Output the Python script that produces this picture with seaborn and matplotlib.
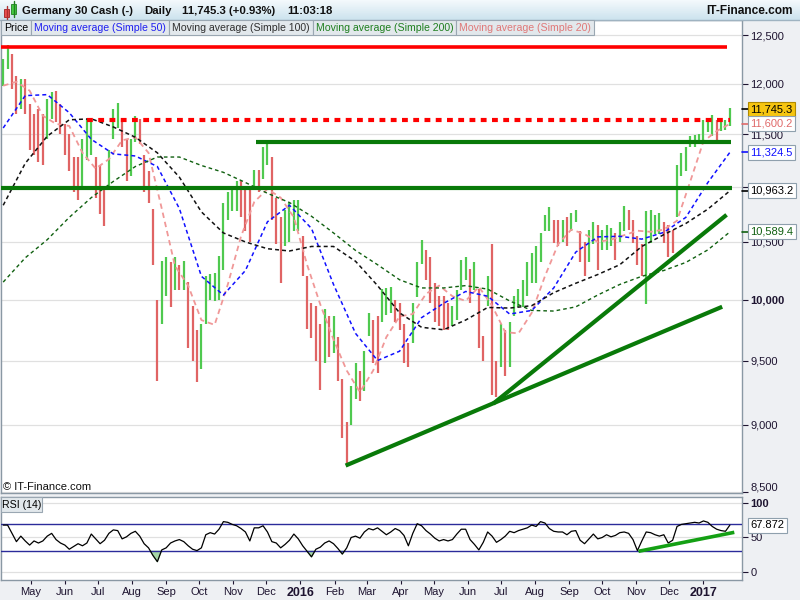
import numpy as np
import pandas as pd
import seaborn as sns
import matplotlib.pyplot as plt
import matplotlib.dates as mdates
import matplotlib.transforms as mtransforms
from matplotlib.patches import Rectangle
from matplotlib.colors import LinearSegmentedColormap
from matplotlib.ticker import FixedLocator, FuncFormatter, NullLocator, NullFormatter

# ---------- values ----------
first_bar = "2015-04-06"          # one bar every 4 calendar days

bar_lows = [
    11980, 12150, 11950, 11700, 11750, 11700, 11350, 11300, 11230, 11200,
    11450, 11650, 11620, 11500, 11300, 11150, 10950, 10880, 11000, 11250,
    11300, 10900, 10750, 10640, 11000, 11450, 11560, 11380, 11050, 11100,
    11420, 11400, 10950, 10850, 10300, 9340, 9800, 10030, 9940, 10080,
    10080, 10080, 9600, 9500, 9330, 9430, 9800, 10000, 9990, 10000,
    10250, 10700, 10780, 10780, 10720, 10600, 10500, 10970, 10950, 11070,
    11200, 10700, 10480, 10140, 10460, 10500, 10600, 10600, 10200, 9760,
    9680, 9500, 9270, 9480, 9530, 9560, 9340, 8900, 8700, 9000,
    9200, 9180, 9260, 9700, 9480, 9400, 9810, 9870, 9890, 9810,
    9750, 9480, 9450, 9640, 10020, 10310, 10170, 9970, 9810, 9780,
    9750, 9750, 9780, 9830, 10080, 10170, 9970, 10080, 9600, 9500,
    9950, 9230, 9210, 9450, 9380, 9450, 9860, 9940, 9940, 10030,
    10140, 10140, 10320, 10600, 10600, 10490, 10460, 10500, 10460, 10600,
    10680, 10320, 10200, 10320, 10480, 10250, 10430, 10430, 10460, 10340,
    10500, 10600, 10610, 10490, 10300, 10200, 9960, 10490, 10570, 10570,
    10490, 10370, 10400, 10720, 11100, 11150, 11380, 11380, 11400, 11420,
    11520, 11480, 11440, 11530, 11540, 11580,
]
bar_highs = [
    12250, 12400, 12300, 12080, 12050, 12050, 11800, 11700, 11750, 11700,
    11850, 11920, 11930, 11800, 11600, 11500, 11280, 11280, 11450, 11650,
    11650, 11280, 11200, 11000, 11350, 11750, 11810, 11620, 11440, 11450,
    11680, 11650, 11300, 11150, 10800, 10000, 10330, 10370, 10320, 10370,
    10300, 10330, 10150, 9950, 9750, 9800, 10200, 10220, 10230, 10380,
    10850, 10950, 11010, 11050, 11050, 11000, 11010, 11160, 11160, 11380,
    11430, 11280, 10900, 10720, 10790, 10850, 10880, 10880, 10550, 10200,
    9970, 9950, 9800, 9920, 9860, 9860, 9690, 9350, 9020, 9300,
    9480, 9420, 9580, 9890, 9830, 9860, 10090, 10100, 10110, 10000,
    9970, 9800, 9640, 9970, 10320, 10520, 10430, 10370, 10140, 10030,
    10030, 9970, 9950, 10080, 10340, 10370, 10260, 10320, 10090, 9700,
    10200, 10480, 9500, 9800, 9750, 9810, 10030, 10090, 10170, 10320,
    10400, 10460, 10580, 10740, 10810, 10700, 10700, 10700, 10720, 10760,
    10790, 10600, 10500, 10610, 10680, 10650, 10610, 10650, 10620, 10580,
    10680, 10820, 10790, 10700, 10550, 10480, 10780, 10790, 10740, 10760,
    10680, 10650, 10610, 11200, 11320, 11380, 11480, 11490, 11500, 11640,
    11640, 11690, 11640, 11640, 11640, 11760,
]

# moving averages: every 5th bar (50/100/200) and every 3rd bar (20)
sma50 = [11560, 11880, 11890, 11710, 11450, 11310, 11290, 11190, 10800, 10200,
         10040, 10250, 10680, 10830, 10620, 10130, 9720, 9500, 9575, 9850,
         9970, 10070, 10030, 9880, 9910, 10100, 10410, 10545, 10550, 10525,
         10585, 10720, 11040, 11325]
sma100 = [10830, 11220, 11480, 11640, 11650, 11570, 11470, 11320, 11090, 10770,
          10580, 10500, 10440, 10420, 10460, 10460, 10330, 10120, 9890, 9770,
          9750, 9830, 9935, 9930, 9950, 10060, 10140, 10215, 10300, 10460,
          10565, 10665, 10795, 10963]
sma200 = [10150, 10360, 10520, 10720, 10900, 11050, 11190, 11280, 11280, 11200,
          11135, 11040, 10940, 10855, 10730, 10580, 10425, 10300, 10170, 10100,
          10100, 10120, 10090, 9990, 9910, 9905, 9940, 10040, 10130, 10200,
          10250, 10320, 10430, 10589]
sma20 = [11980, 12020, 11930, 11680, 11600, 11580, 11320, 11170, 11260, 11440,
         11470, 11320, 10800, 10290, 10120, 9830, 9790, 10130, 10550, 10860,
         10980, 10900, 10720, 10300, 9960, 9670, 9420, 9250, 9420, 9690,
         9860, 9880, 10050, 10120, 10030, 9990, 10110, 9950, 9730, 9720,
         9890, 10200, 10480, 10610, 10570, 10500, 10520, 10560, 10600, 10590,
         10610, 10690, 11050, 11430, 11530, 11600]

rsi_values = [
    68, 68, 56, 44, 52, 45, 39, 45, 42, 45,
    52, 56, 47, 42, 39, 33, 37, 41, 38, 42,
    55, 48, 41, 46, 56, 61, 60, 48, 51, 56,
    59, 52, 41, 35, 24, 15, 32, 35, 42, 45,
    47, 44, 38, 33, 31, 35, 54, 57, 55, 62,
    73, 72, 69, 67, 63, 58, 45, 64, 64, 67,
    58, 44, 42, 35, 40, 46, 55, 48, 38, 30,
    22, 33, 36, 42, 45, 41, 34, 26, 35, 50,
    52, 49, 58, 63, 61, 64, 59, 54, 58, 63,
    60, 53, 38, 56, 70, 67, 60, 55, 49, 45,
    47, 45, 47, 55, 62, 62, 47, 40, 32, 43,
    58, 52, 43, 47, 52, 59, 57, 60, 62, 64,
    68, 66, 73, 71, 63, 59, 58, 58, 54, 59,
    60, 46, 41, 48, 55, 48, 50, 54, 51, 53,
    57, 58, 56, 47, 31, 45, 58, 57, 54, 52,
    54, 42, 46, 66, 69, 70, 71, 72, 71, 74,
    72, 66, 62, 60, 59, 68,
]

# drawn support / resistance levels
level_values = [12380, 11640, 11420, 10990]
level_starts = ["2015-04-03", "2015-06-21", "2015-11-22", "2015-04-03"]
level_ends = ["2017-01-22", "2017-01-25", "2017-01-26", "2017-01-27"]

trend_starts = ["2016-02-11", "2016-06-24"]
trend_start_values = [8694, 9160]
trend_ends = ["2017-01-18", "2017-01-22"]
trend_end_values = [9941, 10743]

rsi_trend_dates = ["2016-11-03", "2017-01-29"]
rsi_trend_values = [30, 57.5]

last_price = 11745.3
ma_last = [11600.2, 11324.5, 10963.2, 10589.4]     # SMA20, SMA50, SMA100, SMA200
rsi_last = 67.872

price_ticks = [8500, 9000, 9500, 10000, 10500, 11000, 11500, 12000, 12500]
month_ticks = pd.date_range("2015-05-01", "2017-01-01", freq="MS")

title_parts = ["Germany 30 Cash (-)", "Daily", "11,745.3 (+0.93%)", "11:03:18"]
legend_labels = ["Price", "Moving average (Simple 50)", "Moving average (Simple 100)",
                 "Moving average (Simple 200)", "Moving average (Simple 20)"]

# ---------- drawing ----------
sns.set_theme(style="white")
plt.rcParams["font.family"] = ["Liberation Sans", "DejaVu Sans"]

dates = pd.date_range(first_bar, periods=len(bar_lows), freq="4D")
lows = np.array(bar_lows, dtype=float)
highs = np.array(bar_highs, dtype=float)
mids = (lows + highs) / 2
up = np.r_[True, mids[1:] >= mids[:-1]]
bar_colors = np.where(up, "#4fc94f", "#e06464")
rsi = np.array(rsi_values, dtype=float)

W, H = 800, 600


def px_box(x0, y0, x1, y1):
    return [x0 / W, 1 - y1 / H, (x1 - x0) / W, (y1 - y0) / H]


fig = plt.figure(figsize=(8, 6), dpi=100)
fig.patch.set_facecolor("#eef0f3")

ax = fig.add_axes(px_box(1, 20, 742, 493))
ax_rsi = fig.add_axes(px_box(1, 497, 742, 580))
x_lo, x_hi = pd.Timestamp("2015-04-04"), pd.Timestamp("2017-02-05")

spine_col = "#8a98a4"
tick_col = "#1e1430"

# --- price panel ---
ax.set_yscale("log")
ax.vlines(dates.to_pydatetime(), lows, highs, colors=bar_colors, linewidth=1.6, zorder=3)

ma_style = [
    (dates[::3], sma20, "#f09898", 1.3, (0, (3.0, 2.2))),
    (dates[::5], sma50, "#1010ff", 1.1, (0, (2.6, 2.0))),
    (dates[::5], sma100, "#111111", 1.1, (0, (2.6, 2.0))),
    (dates[::5], sma200, "#106010", 1.0, (0, (2.6, 2.2))),
]
for d, vals, col, lw, ls in ma_style:
    sns.lineplot(x=d.to_pydatetime(), y=vals, ax=ax, color=col, linewidth=lw,
                 linestyle=ls, zorder=4)

level_colors = ["#ff0000", "#ff0000", "#097a09", "#097a09"]
level_ls = ["-", (0, (1.4, 1.3)), "-", "-"]
level_lw = [2.6, 3.0, 3.0, 3.0]
for v, s, e, c, ls, lw in zip(level_values, level_starts, level_ends, level_colors, level_ls, level_lw):
    ax.plot([pd.Timestamp(s), pd.Timestamp(e)], [v, v], color=c, linestyle=ls,
            linewidth=lw, solid_capstyle="butt", zorder=5)

for s, sv, e, ev in zip(trend_starts, trend_start_values, trend_ends, trend_end_values):
    ax.plot([pd.Timestamp(s), pd.Timestamp(e)], [sv, ev], color="#097a09",
            linewidth=3.0, solid_capstyle="butt", zorder=5)

ax.set_xlim(x_lo, x_hi)
ax.set_ylim(8495, 12663)
ax.set_facecolor("white")
ax.yaxis.tick_right()
ax.yaxis.set_major_locator(FixedLocator(price_ticks))
# the 11,000 label sits under the SMA100 value box in the original
ax.yaxis.set_major_formatter(FuncFormatter(lambda v, _: "" if v == 11000 else f"{v:,.0f}"))
ax.yaxis.set_minor_locator(NullLocator())
ax.yaxis.set_minor_formatter(NullFormatter())
ax.tick_params(axis="y", right=True, length=4, width=0.8, pad=2, labelsize=8,
               colors=tick_col)
ax.tick_params(axis="x", bottom=False, labelbottom=False)
ax.grid(axis="y", color="#e0e0e0", linewidth=0.9)
ax.grid(axis="x", visible=False)
ax.set_axisbelow(True)
for sp in ax.spines.values():
    sp.set_color(spine_col)
    sp.set_linewidth(1.0)
for lab in ax.get_yticklabels():
    if lab.get_text() == "10,000":
        lab.set_fontweight("bold")
    if lab.get_text() == "8,500":
        lab.set_verticalalignment("bottom")
ax.set_xlabel("")
ax.set_ylabel("")

trans = mtransforms.blended_transform_factory(ax.transAxes, ax.transData)
box_specs = [
    (last_price, "#000000", "#f6c510", "#b08a00"),
    (ma_last[0], "#e06a6a", "white", "#8fa0ad"),
    (ma_last[1], "#1010ff", "white", "#8fa0ad"),
    (ma_last[2], "#000000", "white", "#8fa0ad"),
    (ma_last[3], "#106010", "white", "#8fa0ad"),
]
for v, tc, fc, ec in box_specs:
    ax.plot([1.0, 1.008], [v, v], transform=trans, color=tc, lw=1.2, clip_on=False, zorder=6)
    ax.text(1.0115, v, f"{v:,.1f}", transform=trans, ha="left", va="center",
            fontsize=8, color=tc, clip_on=False, zorder=7,
            bbox=dict(boxstyle="square,pad=0.22", fc=fc, ec=ec, lw=0.8))

# --- RSI panel ---
ax_rsi.set_facecolor("white")
ax_rsi.fill_between(dates.to_pydatetime(), rsi, 30, where=rsi < 30, interpolate=True,
                    color="#a6d8a6", zorder=2)
ax_rsi.axhline(70, color="#2b2b9a", lw=1.0, zorder=3)
ax_rsi.axhline(30, color="#2b2b9a", lw=1.0, zorder=3)
sns.lineplot(x=dates.to_pydatetime(), y=rsi, ax=ax_rsi, color="black", linewidth=0.9, zorder=4)
ax_rsi.plot([pd.Timestamp(d) for d in rsi_trend_dates], rsi_trend_values, color="#14a014",
            linewidth=2.6, solid_capstyle="butt", zorder=5, clip_on=False)
ax_rsi.set_xlim(x_lo, x_hi)
ax_rsi.set_ylim(-11.6, 108.7)
ax_rsi.yaxis.tick_right()
ax_rsi.set_yticks([0, 50, 100])
ax_rsi.set_yticklabels(["0", "50", "100"])
ax_rsi.tick_params(axis="y", right=True, length=4, width=0.8, pad=2, labelsize=8,
                   colors=tick_col)
ax_rsi.grid(axis="y", color="#e0e0e0", linewidth=0.9)
ax_rsi.grid(axis="x", visible=False)
ax_rsi.set_axisbelow(True)
ax_rsi.xaxis.set_major_locator(FixedLocator(mdates.date2num(month_ticks)))
ax_rsi.xaxis.set_major_formatter(FuncFormatter(
    lambda v, _: (str(mdates.num2date(v).year) if mdates.num2date(v).month == 1
                  else mdates.num2date(v).strftime("%b"))))
ax_rsi.xaxis.set_minor_locator(NullLocator())
ax_rsi.tick_params(axis="x", bottom=True, length=3, width=0.8, pad=2, labelsize=8,
                   colors=tick_col)
for lab in ax_rsi.get_xticklabels():
    if lab.get_text().isdigit():
        lab.set_fontweight("bold")
        lab.set_fontsize(9)
for lab in ax_rsi.get_yticklabels():
    if lab.get_text() == "100":
        lab.set_fontweight("bold")
for sp in ax_rsi.spines.values():
    sp.set_color(spine_col)
    sp.set_linewidth(1.0)
ax_rsi.set_xlabel("")
ax_rsi.set_ylabel("")
rtrans = mtransforms.blended_transform_factory(ax_rsi.transAxes, ax_rsi.transData)
ax_rsi.text(1.0115, rsi_last, f"{rsi_last:.3f}", transform=rtrans, ha="left", va="center",
            fontsize=8, color="#000000", clip_on=False, zorder=7,
            bbox=dict(boxstyle="square,pad=0.22", fc="white", ec="#8fa0ad", lw=0.8))

# --- overlay: title bar, legends, icon (pixel coordinates) ---
ov = fig.add_axes([0, 0, 1, 1], zorder=10)
ov.patch.set_alpha(0)
ov.set_xlim(0, 800)
ov.set_ylim(600, 0)
grad = np.linspace(0, 1, 20)[:, None]
ov.imshow(grad, extent=(0, 800, 20, 0), aspect="auto",
          cmap=LinearSegmentedColormap.from_list("bar", ["#f3f9fc", "#cde3ee"]))
ov.plot([0, 800], [20, 20], color="#9fb3c1", lw=1)
# candle icon
ov.plot([6.5, 6.5], [6, 20], color="#b03030", lw=1)
ov.add_patch(Rectangle((4, 9), 5, 8, fc="#e85050", ec="#a02020", lw=0.6))
ov.plot([13.5, 13.5], [1, 17], color="#208020", lw=1)
ov.add_patch(Rectangle((11, 4), 5, 10, fc="#44cc44", ec="#208020", lw=0.6))
ov.set_xlim(0, 800)
ov.set_ylim(600, 0)
ov.axis("off")

renderer = fig.canvas.get_renderer()

x = 22
for t in title_parts:
    txt = ov.text(x, 11, t, ha="left", va="center", fontsize=8.2, color="#101010",
                  fontweight="bold")
    x += txt.get_window_extent(renderer).width + 11
ov.text(793, 11, "IT-Finance.com", ha="right", va="center", fontsize=8.6,
        color="#101010", fontweight="bold")

legend_colors = ["#000000", "#2020f0", "#303030", "#1f7f1f", "#e07878"]
x = 1
for lab, col in zip(legend_labels, legend_colors):
    txt = ov.text(x + 3, 27.8, lab, ha="left", va="center", fontsize=7.6, color=col, zorder=3)
    w = txt.get_window_extent(renderer).width + 6
    ov.add_patch(Rectangle((x, 20), w, 15, fc="#e2e8ec", ec="#9aa7b2", lw=0.8, zorder=2))
    x += w

ov.add_patch(Rectangle((1, 497), 41, 15, fc="#e2e8ec", ec="#9aa7b2", lw=0.8))
ov.text(21.5, 505, "RSI (14)", ha="center", va="center", fontsize=7.6, color="#000000")
ov.text(3, 487, "\u00a9 IT-Finance.com", ha="left", va="center", fontsize=8, color="#101010")

fig.savefig("out.png", dpi=100)
